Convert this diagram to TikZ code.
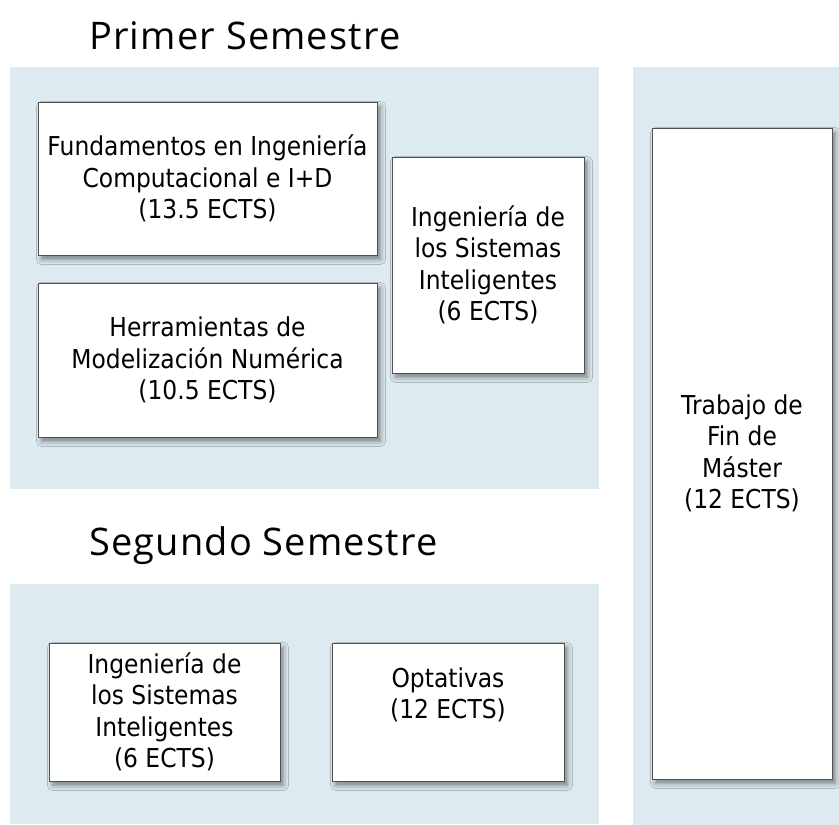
\documentclass[tikz,border=0pt]{standalone}
\usepackage{fontspec}
\newfontfamily\boxfont[FakeStretch=0.9]{DejaVu Sans}
\newfontfamily\titlefont[LetterSpace=3]{Open Sans}
\usetikzlibrary{shadows.blur}
\definecolor{panelblue}{RGB}{221,235,241}
\definecolor{boxline}{RGB}{80,80,80}
\tikzset{
  panel/.style={fill=panelblue, draw=none, inner sep=0pt, outer sep=0pt},
  course/.style={draw=boxline, line width=0.9pt, fill=white, inner sep=0pt,
    align=center, font=\boxfont\fontsize{26}{31.5}\selectfont,
    blur shadow={shadow xshift=3.5pt, shadow yshift=-4.5pt, shadow blur radius=5pt, shadow opacity=45}},
  semtitle/.style={anchor=base west, inner sep=0pt, font=\titlefont\fontsize{38}{45}\selectfont}
}
\begin{document}
\begin{tikzpicture}[x=1pt,y=1pt]
\useasboundingbox (0,0) rectangle (839,-825);
% panels
\fill[panel] (10,-67) rectangle (599,-489);
\fill[panel] (633,-67) rectangle (839,-825);
\fill[panel] (10,-584) rectangle (599,-824);
% titles
\node[semtitle] (t1) at (89,-49) {Primer Semestre};
\node[semtitle] (t2) at (89,-555) {Segundo Semestre};
% first semester
\node[course, minimum width=339pt, minimum height=153pt] (fund) at (207.5,-178.5)
  {Fundamentos en Ingeniería\\Computacional e I+D\\(13.5 ECTS)};
\node[course, minimum width=339pt, minimum height=154pt] (herr) at (207.5,-360)
  {Herramientas de\\Modelización Numérica\\(10.5 ECTS)};
\node[course, minimum width=192pt, minimum height=216pt] (isi1) at (488,-265)
  {Ingeniería de\\los Sistemas\\Inteligentes\\(6 ECTS)};
% TFM
\node[course, minimum width=180pt, minimum height=651pt] (tfm) at (742,-453.5)
  {Trabajo de\\Fin de\\Máster\\(12 ECTS)};
% second semester
\node[course, minimum width=231pt, minimum height=138pt] (isi2) at (164.5,-712)
  {Ingeniería de\\los Sistemas\\Inteligentes\\(6 ECTS)};
\node[course, minimum width=232pt, minimum height=138pt] (opt) at (448,-712)
  {Optativas\\(12 ECTS)\\[6pt]};
\end{tikzpicture}
\end{document}
